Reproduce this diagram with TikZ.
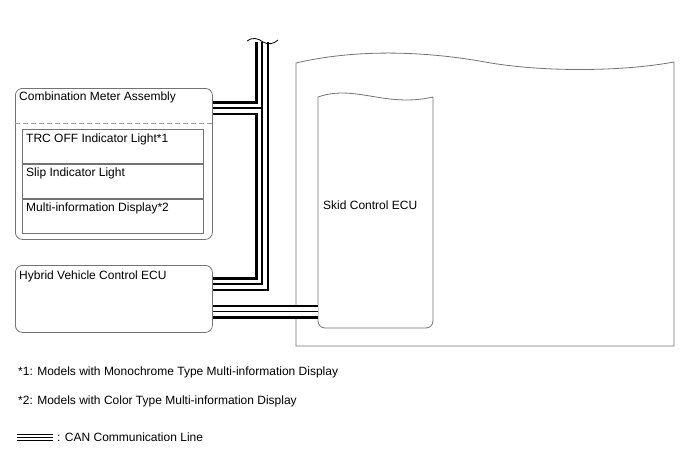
\documentclass[tikz,border=0pt]{standalone}
\usepackage{fontspec}
\setmainfont{Liberation Sans}
\usetikzlibrary{positioning}

\definecolor{boxline}{gray}{0.45}
\definecolor{dashline}{gray}{0.62}

\tikzset{
  ecubox/.style={draw=boxline, line width=0.8pt, rounded corners=7pt, minimum width=197pt, inner sep=0pt, anchor=north west},
  cellbox/.style={draw=boxline, line width=0.8pt, minimum width=181pt, minimum height=34pt, inner sep=0pt, anchor=north west},
  lbl/.style={anchor=base west, inner sep=0pt, font=\fontsize{12}{14}\selectfont}
}

\begin{document}
\begin{tikzpicture}[x=1pt, y=-1pt]
\useasboundingbox (0,0) rectangle (688,463);

% combination meter
\node[ecubox, minimum height=151pt] (cma) at (15,88) {};
\node[lbl] (cmatext) at (19,100.5) {Combination Meter Assembly};
\draw[dashline, line width=0.8pt, dash pattern=on 5pt off 3pt] (cma.west |- 0,123) -- (cma.east |- 0,123);
\node[cellbox] (trc) at (22,129) {};
\node[cellbox, below=0pt of trc] (slip) {};
\node[cellbox, below=0pt of slip] (mid) {};
\node[lbl] (trctext) at ([xshift=4pt, yshift=-13pt]trc.north west) {TRC OFF Indicator Light*1};
\node[lbl] (sliptext) at ([xshift=4pt, yshift=-13pt]slip.north west) {Slip Indicator Light};
\node[lbl] (midtext) at ([xshift=4pt, yshift=-13pt]mid.north west) {Multi-information Display*2};

% hybrid vehicle control ecu
\node[ecubox, minimum height=67pt] (hv) at (15,265) {};
\node[lbl] (hvtext) at ([xshift=4pt, yshift=-14pt]hv.north west) {Hybrid Vehicle Control ECU};

% skid control ecu (outer and inner)
\draw[boxline, line width=0.8pt] (296,346) -- (296,63) .. controls (360,48) and (430,52) .. (485,62)
  .. controls (540,72) and (620,72) .. (674,62) -- (674,346) -- cycle;
\draw[boxline, line width=0.8pt] (318,97) .. controls (355,84) and (385,108) .. (433,97)
  [rounded corners=7pt] -- (433,328) -- (318,328) [sharp corners] -- cycle;
\node[lbl] (skidtext) at (323,209) {Skid Control ECU};

% CAN bus
\coordinate (bustop) at (262,42);
\coordinate (jcma) at (262,108);
\coordinate (jhv) at (262,284);
\coordinate (jsk) at (262,311.5);
\coordinate (skid) at (318,311.5);
\foreach \w/\c in {14pt/black, 9pt/white, 1.3pt/black}
  \draw[line width=\w, \c] (bustop) -- (jhv) -- (hv.east |- jhv)
    (jcma) -- (cma.east |- jcma)
    (hv.east |- jsk) -- (skid);
\draw[line width=0.8pt] (247,41) .. controls (252,37) and (258,38) .. (263,42)
  .. controls (268,45) and (274,44) .. (278,40);

% notes and legend
\node[lbl] (note1) at (18,375) {*1: Models with Monochrome Type Multi-information Display};
\node[lbl] (note2) at (18,404.5) {*2: Models with Color Type Multi-information Display};
\coordinate (leg) at (17,434.8);
\draw[line width=1pt] (leg) -- ++(36,0);
\draw[line width=1.3pt] ([yshift=-2.6pt]leg) -- ++(36,0);
\draw[line width=1.8pt] ([yshift=-5.6pt]leg) -- ++(36,0);
\node[lbl] (legtext) at (57,441.3) {: CAN Communication Line};

\end{tikzpicture}
\end{document}
